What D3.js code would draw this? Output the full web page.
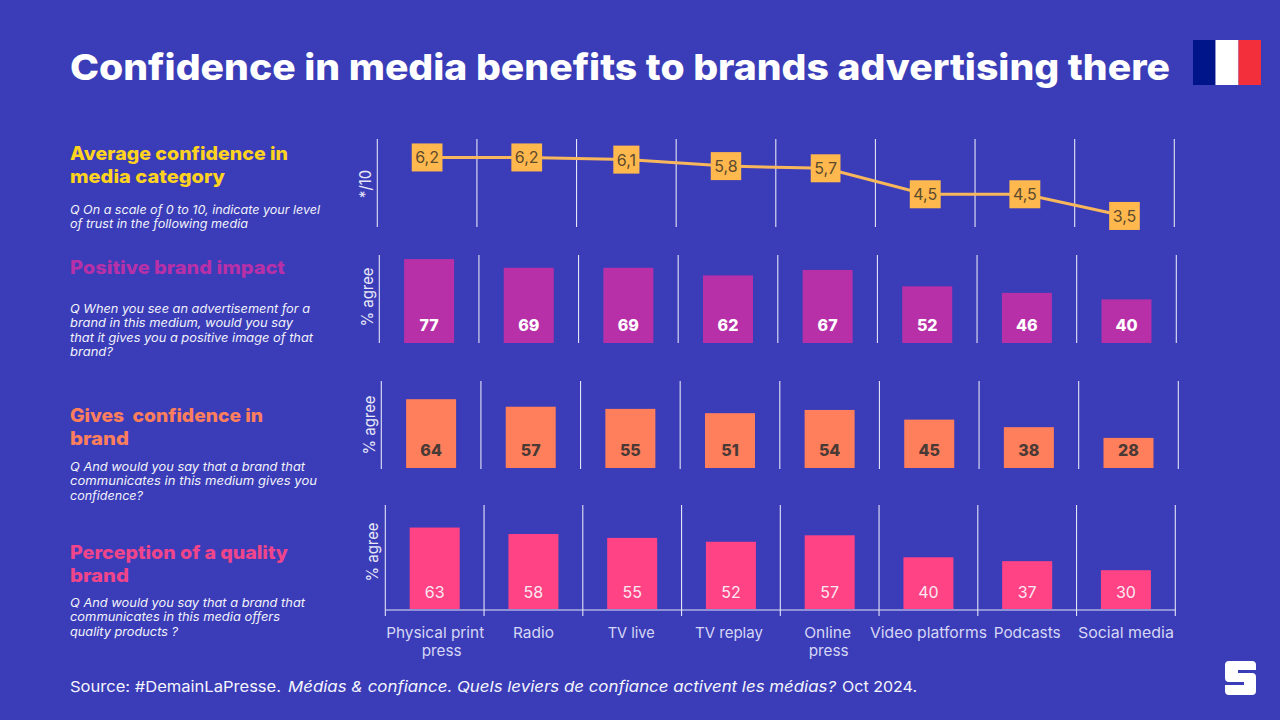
<!DOCTYPE html>
<html><head><meta charset="utf-8">
<script src="https://cdn.jsdelivr.net/npm/d3@7/dist/d3.min.js"></script>
<style>html,body{margin:0;padding:0;background:#3A3DB7}svg{display:block}text{font-family:Inter,"Open Sans",sans-serif}</style>
</head><body><svg id="c" width="1280" height="720"></svg>
<script>
const categories=["Physical print press","Radio","TV live","TV replay","Online press","Video platforms","Podcasts","Social media"];
const confidence=[6.2,6.2,6.1,5.8,5.7,4.5,4.5,3.5];
const positiveImpact=[77,69,69,62,67,52,46,40];
const givesConfidence=[64,57,55,51,54,45,38,28];
const qualityBrand=[63,58,55,52,57,40,37,30];

const svg=d3.select("#c");
svg.append("rect").attr("width",1280).attr("height",720).attr("fill","#3A3DB7");

function fit(x,y,str,width,o={}){
  const t=svg.append("text").attr("x",x).attr("y",y).text(str)
    .attr("font-size",o.size||12).attr("font-weight",o.weight||400)
    .attr("font-style",o.italic?"italic":"normal").attr("fill",o.fill||"#fff")
    .attr("xml:space","preserve");
  if(width)t.attr("textLength",width).attr("lengthAdjust","spacingAndGlyphs");
  return t;
}
const DIV="#E4E4F6";
function dividers(g,x,y0,y1){
  const step=x.step();
  g.selectAll("line.d").data(d3.range(categories.length+1)).join("line").attr("class","d")
    .attr("x1",i=>x.range()[0]+i*step).attr("x2",i=>x.range()[0]+i*step)
    .attr("y1",y0).attr("y2",y1).attr("stroke",DIV).attr("stroke-width",1.1);
}
function yLabel(cx,cy,str,len){
  svg.append("text").attr("transform",`translate(${cx},${cy}) rotate(-90)`).attr("text-anchor","middle")
    .attr("font-size",16).attr("fill","#E8E8F8").attr("textLength",len).attr("lengthAdjust","spacingAndGlyphs").text(str);
}

// Title, flag, logo
fit(70,80,"Confidence in media benefits to brands advertising there",1100,{size:36,weight:800});
const flag=[["#00158A",1193,22.5],["#FFFFFF",1215.5,23],["#F42F3C",1238.5,22.5]];
svg.selectAll("rect.f").data(flag).join("rect").attr("class","f").attr("x",d=>d[1]).attr("y",40).attr("width",d=>d[2]).attr("height",45).attr("fill",d=>d[0]);
svg.append("path").attr("fill","#fff")
  .attr("d","M1229 661H1252Q1256 661 1256 665V670H1238V673H1252Q1256 673 1256 677V691Q1256 695 1252 695H1229Q1225 695 1225 691V685H1244V682H1229Q1225 682 1225 678V665Q1225 661 1229 661Z");

// Left text blocks
const heads=[
 {c:"#FFD320",l:[["Average confidence in",160,218],["media category",183,155]]},
 {c:"#B830A8",l:[["Positive brand impact",274,215]]},
 {c:"#FF7F5C",l:[["Gives  confidence in",422,193],["brand",445,59]]},
 {c:"#F0458A",l:[["Perception of a quality",559,218],["brand",582,59]]}];
heads.forEach(h=>h.l.forEach(l=>fit(70,l[1],l[0],l[2],{size:18.5,weight:800,fill:h.c})));
const subs=[
 ["Q On a scale of 0 to 10, indicate your level",214,250],["of trust in the following media",228,178],
 ["Q When you see an advertisement for a",313,240],["brand in this medium, would you say",327,223],
 ["that it gives you a positive image of that",342,243],["brand?",356,43],
 ["Q And would you say that a brand that",471,235],["communicates in this medium gives you",485,247],["confidence?",500,73],
 ["Q And would you say that a brand that",607,235],["communicates in this media offers",621,210],["quality products ?",636,108]];
subs.forEach(s=>fit(70,s[1],s[0],s[2],{size:12,italic:true,fill:"#F2F2FB"}));

// Panel 1: line
const x1=d3.scaleBand().domain(categories).range([377.3,1174.3]);
const y1=d3.scaleLinear().domain([0,10]).range([291.8,75.1]);
const g1=svg.append("g");
dividers(g1,x1,139,227);
const cx1=c=>x1(c)+x1.bandwidth()/2;
const pts=categories.map((c,i)=>({c,v:confidence[i]}));
g1.append("path").datum(pts).attr("fill","none").attr("stroke","#F9B75C").attr("stroke-width",3)
  .attr("d",d3.line().x(d=>cx1(d.c)).y(d=>y1(d.v)));
const nodes=g1.selectAll("g.n").data(pts).join("g").attr("class","n").attr("transform",d=>`translate(${cx1(d.c)},${y1(d.v)})`);
nodes.append("rect").attr("y",-14).attr("height",28).attr("fill","#FFB84D");
const lbl=nodes.append("text").attr("text-anchor","middle").attr("y",6).attr("font-size",16).attr("fill","#5C4A2E").text(d=>String(d.v.toFixed(1)).replace(".",","));
lbl.each(function(){const w=this.getComputedTextLength()+7;d3.select(this.parentNode).select("rect").attr("x",-w/2).attr("width",w);});
yLabel(371,184,"*/10",28);

// Bar panels
function bars(range,top,bottom,base,scale,values,fill,txt,weight,lb,lsize){
  const x=d3.scaleBand().domain(categories).range(range);
  const y=d3.scaleLinear().domain([0,100]).range([base,base-scale*100]);
  const g=svg.append("g");
  dividers(g,x,top,bottom);
  const bw=50, off=(x.bandwidth()-bw)/2;
  g.selectAll("rect").data(values).join("rect").attr("x",(d,i)=>x(categories[i])+off).attr("width",bw)
    .attr("y",d=>y(d)).attr("height",d=>y(0)-y(d)).attr("fill",fill);
  g.selectAll("text").data(values).join("text").attr("text-anchor","middle").attr("x",(d,i)=>x(categories[i])+x.bandwidth()/2)
    .attr("y",lb).attr("font-size",lsize).attr("font-weight",weight).attr("fill",txt).text(d=>d);
  return x;
}
bars([379.3,1176.3],255,343,343,1.09,positiveImpact,"#B830A8","#fff",800,331,16);
yLabel(373,297,"% agree",59);
bars([381.3,1178.3],381,469,468,1.075,givesConfidence,"#FF7F5C","#4A3A36",800,456,16);
yLabel(375,425,"% agree",59);
const x4=bars([385.3,1175.3],505,616,609,1.293,qualityBrand,"#FF4385","#FBE9F2",400,598,16);
yLabel(378,552,"% agree",59);

// Bottom axis
const axis=svg.append("g").attr("transform","translate(0,609.5)").call(d3.axisBottom(x4).tickSize(0).tickPadding(0));
axis.select(".domain").attr("stroke",DIV).attr("stroke-width",1.2);
axis.selectAll("text").remove();
const catWidths={"Video platforms":117,"Physical print":98,"press":40,"Radio":41,"TV live":47,"TV replay":68,"Online":47,"Podcasts":67,"Social media":96};
const catLines={"Physical print press":["Physical print","press"],"Online press":["Online","press"]};
const catNudge={"TV live":[-1],"TV replay":[-2],"Online press":[-2,-1],"Physical print press":[0.5,7]};
axis.selectAll("g.tick").each(function(c){
  (catLines[c]||[c]).forEach((s,i)=>{
    d3.select(this).append("text").attr("x",(catNudge[c]||[0,0])[i]).attr("y",28.5+i*18).attr("text-anchor","middle").attr("font-size",15).attr("fill","#D6D6F6")
      .attr("textLength",catWidths[s]).attr("lengthAdjust","spacingAndGlyphs").text(s);
  });
});

// Source
fit(70,692,"Source: #DemainLaPresse.",211,{size:15,fill:"#F4F4FC"});
fit(288,692,"Médias & confiance. Quels leviers de confiance activent les médias?",548,{size:15,italic:true,fill:"#F4F4FC"});
fit(842,692,"Oct 2024.",75,{size:15,fill:"#F4F4FC"});
</script></body></html>
